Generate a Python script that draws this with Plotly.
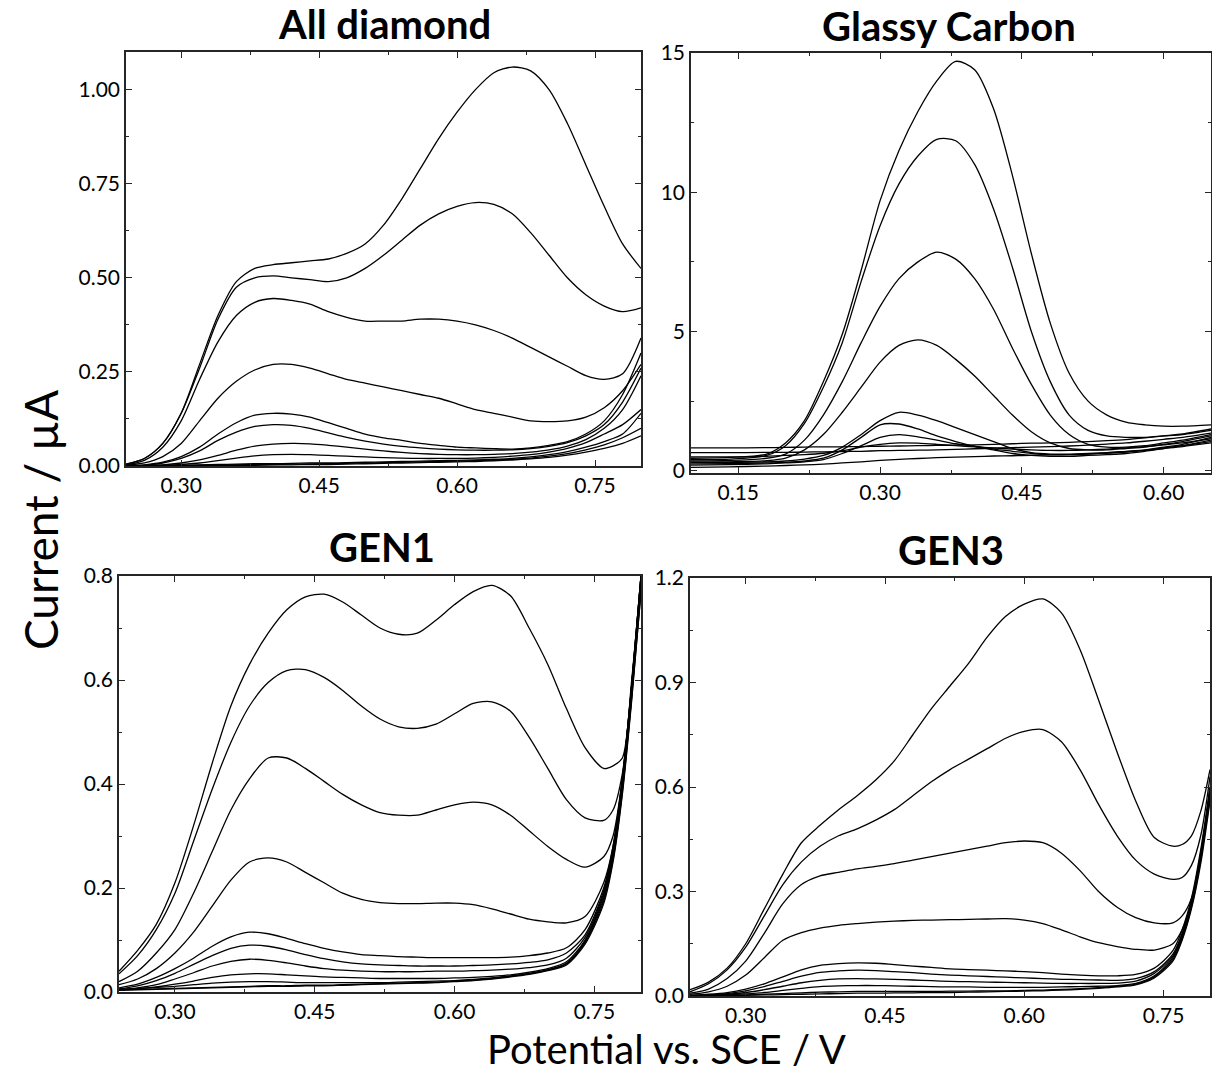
import plotly.graph_objects as go

# ---------------- DATA ----------------
# All diamond
AD_X = [0.24, 0.26, 0.28, 0.30, 0.32, 0.34, 0.36, 0.38, 0.40, 0.42, 0.44, 0.46, 0.48, 0.50,
        0.52, 0.54, 0.56, 0.58, 0.60, 0.62, 0.64, 0.66, 0.68, 0.70, 0.72, 0.74, 0.76, 0.78, 0.80]
AD_1 = [0.005, 0.02, 0.06, 0.14, 0.27, 0.40, 0.49, 0.525, 0.535, 0.54, 0.545, 0.55, 0.565, 0.59,
        0.64, 0.71, 0.79, 0.87, 0.94, 1.00, 1.045, 1.06, 1.05, 1.00, 0.91, 0.80, 0.69, 0.59, 0.525]
AD_2 = [0.005, 0.02, 0.06, 0.14, 0.26, 0.39, 0.475, 0.50, 0.505, 0.50, 0.495, 0.49, 0.50, 0.525,
        0.56, 0.60, 0.64, 0.67, 0.69, 0.70, 0.695, 0.67, 0.62, 0.56, 0.50, 0.455, 0.425, 0.41, 0.42]
AD_3 = [0.003, 0.015, 0.05, 0.12, 0.23, 0.33, 0.40, 0.435, 0.445, 0.44, 0.43, 0.41, 0.395, 0.385,
        0.385, 0.385, 0.39, 0.39, 0.385, 0.375, 0.36, 0.34, 0.315, 0.29, 0.265, 0.24, 0.23, 0.245, 0.34]
AD_4 = [0.002, 0.008, 0.025, 0.06, 0.12, 0.18, 0.225, 0.255, 0.27, 0.27, 0.26, 0.245, 0.23, 0.22,
        0.21, 0.20, 0.19, 0.18, 0.165, 0.15, 0.14, 0.13, 0.12, 0.118, 0.12, 0.13, 0.155, 0.20, 0.27]
AD_5 = [0.0, 0.003, 0.01, 0.025, 0.05, 0.085, 0.115, 0.135, 0.14, 0.138, 0.13, 0.115, 0.10, 0.085,
        0.075, 0.068, 0.06, 0.055, 0.05, 0.048, 0.046, 0.045, 0.048, 0.055, 0.065, 0.085, 0.12, 0.19, 0.30]
AD_6 = [0.0, 0.002, 0.008, 0.02, 0.04, 0.068, 0.09, 0.105, 0.11, 0.108, 0.10, 0.088, 0.076, 0.066,
        0.058, 0.052, 0.048, 0.045, 0.043, 0.042, 0.042, 0.043, 0.046, 0.052, 0.062, 0.08, 0.11, 0.17, 0.26]
AD_7 = [0.0, 0.001, 0.003, 0.008, 0.016, 0.028, 0.042, 0.053, 0.058, 0.06, 0.059, 0.055, 0.05, 0.045,
        0.04, 0.036, 0.033, 0.031, 0.03, 0.03, 0.031, 0.033, 0.037, 0.043, 0.053, 0.07, 0.10, 0.15, 0.24]
AD_8 = [0.0, 0.001, 0.002, 0.004, 0.008, 0.014, 0.021, 0.027, 0.03, 0.031, 0.03, 0.028, 0.026, 0.024,
        0.022, 0.021, 0.02, 0.02, 0.02, 0.021, 0.023, 0.026, 0.03, 0.037, 0.047, 0.062, 0.085, 0.11, 0.15]
AD_9 = [0.0, 0.0, 0.001, 0.002, 0.003, 0.004, 0.005, 0.006, 0.006, 0.007, 0.008, 0.008, 0.009, 0.01,
        0.011, 0.012, 0.013, 0.014, 0.015, 0.016, 0.018, 0.02, 0.024, 0.03, 0.038, 0.05, 0.065, 0.085, 0.14]
AD_10 = [0.0, 0.0, 0.0, 0.001, 0.002, 0.002, 0.003, 0.004, 0.004, 0.005, 0.005, 0.006, 0.007, 0.008,
         0.009, 0.01, 0.011, 0.012, 0.013, 0.014, 0.016, 0.018, 0.021, 0.026, 0.033, 0.043, 0.056, 0.075, 0.10]
AD_11 = [0.0, 0.0, 0.0, 0.0, 0.001, 0.001, 0.002, 0.002, 0.003, 0.003, 0.004, 0.004, 0.005, 0.006,
         0.007, 0.008, 0.009, 0.01, 0.011, 0.012, 0.014, 0.016, 0.019, 0.023, 0.029, 0.037, 0.047, 0.06, 0.08]
AD_CURVES = [AD_1, AD_2, AD_3, AD_4, AD_5, AD_6, AD_7, AD_8, AD_9, AD_10, AD_11]

# Glassy Carbon
GC_X = [0.10, 0.14, 0.18, 0.20, 0.22, 0.24, 0.26, 0.28, 0.30, 0.32, 0.34, 0.36, 0.38, 0.40,
        0.42, 0.44, 0.46, 0.48, 0.50, 0.52, 0.54, 0.56, 0.58, 0.60, 0.62, 0.65]
GC_1 = [0.45, 0.48, 0.6, 1.0, 1.8, 3.2, 4.9, 7.2, 9.7, 11.5, 12.9, 14.0, 14.7, 14.4,
        13.0, 10.6, 7.8, 5.3, 3.5, 2.5, 2.0, 1.75, 1.65, 1.6, 1.6, 1.65]
GC_2 = [0.4, 0.42, 0.55, 0.9, 1.7, 3.0, 4.6, 6.8, 8.8, 10.3, 11.3, 11.9, 11.85, 11.0,
        9.4, 7.3, 5.0, 3.2, 2.0, 1.45, 1.25, 1.2, 1.2, 1.25, 1.3, 1.45]
GC_3 = [0.35, 0.37, 0.45, 0.6, 1.1, 2.0, 3.2, 4.6, 5.9, 6.9, 7.5, 7.85, 7.6, 6.9,
        5.8, 4.4, 3.1, 2.0, 1.3, 0.95, 0.85, 0.85, 0.9, 1.0, 1.1, 1.3]
GC_4 = [0.3, 0.32, 0.36, 0.45, 0.75, 1.3, 2.1, 3.0, 3.9, 4.5, 4.7, 4.5, 4.0, 3.4,
        2.7, 2.0, 1.4, 1.0, 0.8, 0.75, 0.75, 0.8, 0.85, 0.95, 1.05, 1.25]
GC_5 = [0.3, 0.3, 0.32, 0.35, 0.42, 0.55, 0.85, 1.3, 1.8, 2.1, 2.0, 1.8, 1.55, 1.3,
        1.05, 0.8, 0.65, 0.6, 0.6, 0.62, 0.65, 0.7, 0.75, 0.85, 0.95, 1.2]
GC_6 = [0.25, 0.26, 0.28, 0.3, 0.35, 0.45, 0.75, 1.2, 1.65, 1.68, 1.5, 1.25, 1.05, 0.88,
        0.75, 0.62, 0.55, 0.52, 0.52, 0.55, 0.58, 0.62, 0.7, 0.8, 0.9, 1.1]
GC_7 = [0.2, 0.22, 0.25, 0.28, 0.32, 0.4, 0.62, 0.9, 1.2, 1.3, 1.22, 1.1, 0.97, 0.88,
        0.78, 0.7, 0.62, 0.58, 0.58, 0.6, 0.63, 0.67, 0.73, 0.82, 0.9, 1.05]
GC_8 = [0.5, 0.5, 0.52, 0.55, 0.58, 0.63, 0.72, 0.85, 0.95, 1.0, 0.99, 0.95, 0.9, 0.86,
        0.82, 0.78, 0.75, 0.73, 0.73, 0.75, 0.78, 0.82, 0.87, 0.93, 1.0, 1.15]
GC_9 = [0.82, 0.82, 0.83, 0.84, 0.85, 0.86, 0.86, 0.87, 0.88, 0.89, 0.9, 0.91, 0.92, 0.93,
        0.95, 0.97, 0.99, 1.0, 1.02, 1.05, 1.08, 1.12, 1.18, 1.25, 1.32, 1.5]
GC_10 = [0.65, 0.65, 0.66, 0.66, 0.67, 0.68, 0.69, 0.7, 0.72, 0.73, 0.74, 0.75, 0.77, 0.79,
         0.81, 0.83, 0.85, 0.87, 0.89, 0.92, 0.96, 1.0, 1.06, 1.13, 1.2, 1.35]
GC_11 = [0.12, 0.14, 0.17, 0.19, 0.21, 0.24, 0.28, 0.32, 0.37, 0.41, 0.44, 0.47, 0.49, 0.51,
         0.53, 0.54, 0.55, 0.57, 0.58, 0.61, 0.64, 0.68, 0.73, 0.8, 0.87, 1.0]
GC_CURVES = [GC_1, GC_2, GC_3, GC_4, GC_5, GC_6, GC_7, GC_8, GC_9, GC_10, GC_11]

# GEN1
G1_X = [0.24, 0.26, 0.28, 0.30, 0.32, 0.34, 0.36, 0.38, 0.40, 0.42, 0.44, 0.46, 0.48, 0.50, 0.52,
        0.54, 0.56, 0.58, 0.60, 0.62, 0.64, 0.66, 0.68, 0.70, 0.72, 0.74, 0.76, 0.77, 0.78, 0.79, 0.80]
G1_1 = [0.04, 0.08, 0.13, 0.21, 0.32, 0.44, 0.55, 0.63, 0.69, 0.735, 0.76, 0.765, 0.75, 0.725, 0.70,
        0.688, 0.69, 0.715, 0.745, 0.77, 0.782, 0.762, 0.70, 0.63, 0.545, 0.47, 0.43, 0.435, 0.45, 0.60, 0.80]
G1_2 = [0.035, 0.07, 0.12, 0.19, 0.29, 0.39, 0.48, 0.55, 0.595, 0.618, 0.62, 0.605, 0.58, 0.55, 0.525,
        0.51, 0.507, 0.515, 0.535, 0.555, 0.558, 0.54, 0.49, 0.43, 0.37, 0.335, 0.33, 0.35, 0.42, 0.59, 0.80]
G1_3 = [0.02, 0.04, 0.075, 0.12, 0.19, 0.27, 0.35, 0.41, 0.45, 0.45, 0.43, 0.405, 0.38, 0.36, 0.345,
        0.34, 0.34, 0.35, 0.36, 0.365, 0.36, 0.34, 0.31, 0.28, 0.255, 0.24, 0.26, 0.30, 0.41, 0.59, 0.80]
G1_4 = [0.014, 0.025, 0.045, 0.075, 0.115, 0.165, 0.215, 0.25, 0.258, 0.25, 0.23, 0.21, 0.19, 0.178, 0.172,
        0.17, 0.17, 0.171, 0.171, 0.168, 0.16, 0.15, 0.14, 0.135, 0.133, 0.145, 0.21, 0.28, 0.41, 0.59, 0.80]
G1_5 = [0.008, 0.015, 0.028, 0.045, 0.065, 0.088, 0.106, 0.115, 0.112, 0.103, 0.093, 0.084, 0.077, 0.072, 0.07,
        0.068, 0.067, 0.066, 0.066, 0.066, 0.066, 0.067, 0.07, 0.075, 0.085, 0.12, 0.20, 0.28, 0.41, 0.59, 0.80]
G1_6 = [0.006, 0.012, 0.022, 0.036, 0.053, 0.07, 0.084, 0.09, 0.088, 0.081, 0.072, 0.064, 0.058, 0.054, 0.052,
        0.051, 0.05, 0.05, 0.05, 0.051, 0.052, 0.054, 0.057, 0.062, 0.075, 0.11, 0.195, 0.275, 0.405, 0.585, 0.79]
G1_7 = [0.004, 0.008, 0.014, 0.025, 0.037, 0.05, 0.059, 0.063, 0.061, 0.056, 0.05, 0.045, 0.042, 0.04, 0.039,
        0.039, 0.039, 0.04, 0.04, 0.041, 0.042, 0.044, 0.047, 0.052, 0.065, 0.105, 0.19, 0.27, 0.40, 0.58, 0.79]
G1_8 = [0.004, 0.006, 0.01, 0.015, 0.021, 0.028, 0.033, 0.035, 0.035, 0.033, 0.031, 0.029, 0.028, 0.027, 0.026,
        0.026, 0.026, 0.026, 0.027, 0.028, 0.03, 0.033, 0.038, 0.045, 0.058, 0.10, 0.185, 0.265, 0.395, 0.575, 0.78]
G1_9 = [0.005, 0.007, 0.009, 0.011, 0.014, 0.017, 0.019, 0.02, 0.02, 0.019, 0.018, 0.018, 0.018, 0.018, 0.018,
        0.019, 0.02, 0.021, 0.022, 0.024, 0.027, 0.031, 0.036, 0.043, 0.055, 0.098, 0.18, 0.26, 0.39, 0.57, 0.78]
G1_10 = [0.004, 0.005, 0.006, 0.007, 0.008, 0.009, 0.01, 0.011, 0.012, 0.012, 0.013, 0.013, 0.014, 0.015, 0.016,
         0.017, 0.018, 0.019, 0.021, 0.023, 0.026, 0.03, 0.035, 0.042, 0.054, 0.095, 0.175, 0.255, 0.385, 0.565, 0.77]
G1_11 = [0.003, 0.004, 0.005, 0.006, 0.007, 0.008, 0.009, 0.01, 0.011, 0.011, 0.012, 0.012, 0.013, 0.014, 0.015,
         0.016, 0.017, 0.018, 0.02, 0.022, 0.025, 0.029, 0.034, 0.041, 0.052, 0.092, 0.17, 0.25, 0.38, 0.56, 0.77]
G1_CURVES = [G1_1, G1_2, G1_3, G1_4, G1_5, G1_6, G1_7, G1_8, G1_9, G1_10, G1_11]

# GEN3
G3_X = [0.24, 0.26, 0.28, 0.30, 0.32, 0.34, 0.36, 0.38, 0.40, 0.42, 0.44, 0.46, 0.48, 0.50, 0.52,
        0.54, 0.56, 0.58, 0.60, 0.62, 0.64, 0.66, 0.68, 0.70, 0.72, 0.74, 0.76, 0.77, 0.78, 0.79, 0.80]
G3_1 = [0.018, 0.04, 0.08, 0.15, 0.25, 0.35, 0.44, 0.49, 0.535, 0.575, 0.62, 0.675, 0.75, 0.825, 0.89,
        0.955, 1.03, 1.09, 1.125, 1.14, 1.10, 0.995, 0.85, 0.70, 0.56, 0.455, 0.43, 0.435, 0.46, 0.53, 0.65]
G3_2 = [0.012, 0.035, 0.075, 0.14, 0.23, 0.32, 0.385, 0.43, 0.46, 0.48, 0.505, 0.535, 0.575, 0.615, 0.65,
        0.68, 0.71, 0.74, 0.76, 0.765, 0.73, 0.65, 0.55, 0.46, 0.39, 0.35, 0.335, 0.34, 0.375, 0.46, 0.63]
G3_3 = [0.008, 0.02, 0.05, 0.10, 0.18, 0.265, 0.32, 0.345, 0.355, 0.365, 0.372, 0.38, 0.39, 0.40, 0.41,
        0.42, 0.43, 0.44, 0.445, 0.44, 0.41, 0.36, 0.30, 0.255, 0.225, 0.21, 0.21, 0.23, 0.28, 0.40, 0.60]
G3_4 = [0.005, 0.012, 0.028, 0.06, 0.11, 0.16, 0.182, 0.195, 0.203, 0.208, 0.212, 0.215, 0.217, 0.218, 0.219,
        0.22, 0.221, 0.222, 0.218, 0.208, 0.19, 0.17, 0.153, 0.142, 0.134, 0.132, 0.15, 0.19, 0.27, 0.40, 0.59]
G3_5 = [0.002, 0.005, 0.01, 0.02, 0.035, 0.055, 0.075, 0.088, 0.093, 0.095, 0.094, 0.09, 0.086, 0.082, 0.078,
        0.076, 0.074, 0.072, 0.07, 0.067, 0.063, 0.06, 0.058, 0.058, 0.062, 0.08, 0.13, 0.19, 0.28, 0.42, 0.60]
G3_6 = [0.001, 0.003, 0.007, 0.015, 0.027, 0.042, 0.057, 0.068, 0.072, 0.074, 0.073, 0.07, 0.067, 0.063, 0.06,
        0.058, 0.056, 0.054, 0.052, 0.05, 0.048, 0.047, 0.046, 0.045, 0.05, 0.07, 0.12, 0.18, 0.27, 0.41, 0.59]
G3_7 = [0.001, 0.002, 0.005, 0.01, 0.018, 0.028, 0.038, 0.045, 0.049, 0.05, 0.049, 0.048, 0.046, 0.044, 0.042,
        0.041, 0.04, 0.039, 0.038, 0.037, 0.036, 0.036, 0.036, 0.037, 0.043, 0.065, 0.115, 0.175, 0.265, 0.40, 0.58]
G3_8 = [0.001, 0.002, 0.003, 0.006, 0.01, 0.016, 0.022, 0.027, 0.029, 0.03, 0.03, 0.029, 0.028, 0.027, 0.026,
        0.026, 0.025, 0.025, 0.025, 0.025, 0.026, 0.027, 0.028, 0.03, 0.036, 0.058, 0.11, 0.17, 0.26, 0.40, 0.58]
G3_9 = [0.0, 0.001, 0.002, 0.003, 0.005, 0.007, 0.009, 0.011, 0.012, 0.013, 0.013, 0.013, 0.013, 0.013, 0.014,
        0.014, 0.015, 0.015, 0.016, 0.017, 0.019, 0.021, 0.024, 0.028, 0.034, 0.055, 0.105, 0.165, 0.255, 0.39, 0.57]
G3_10 = [0.0, 0.0, 0.001, 0.002, 0.003, 0.004, 0.005, 0.006, 0.007, 0.008, 0.008, 0.009, 0.009, 0.01, 0.01,
         0.011, 0.012, 0.013, 0.014, 0.015, 0.017, 0.019, 0.022, 0.026, 0.032, 0.052, 0.10, 0.16, 0.25, 0.38, 0.56]
G3_CURVES = [G3_1, G3_2, G3_3, G3_4, G3_5, G3_6, G3_7, G3_8, G3_9, G3_10]

TITLES = ["All diamond", "Glassy Carbon", "GEN1", "GEN3"]
X_TITLE = "Potential vs. SCE / V"
Y_TITLE = "Current / µA"

# ---------------- LAYOUT ----------------
W, H = 1212, 1076
FONT = "Lato"
INK = "#000000"
AXC = "#262626"

panels = [
    dict(x=AD_X, curves=AD_CURVES, box=(126, 641, 52, 466), xr=[0.24, 0.80], yr=[0, 1.10],
         ydt=0.25, ymin=0.125, yfmt=".2f", xdt=0.15, xfmt=".2f", tx=384, ty=24),
    dict(x=GC_X, curves=GC_CURVES, box=(691, 1211, 53, 473), xr=[0.10, 0.65], yr=[-0.08, 15],
         ydt=5, ymin=2.5, yfmt="d", xdt=0.15, xfmt=".2f", tx=949, ty=26),
    dict(x=G1_X, curves=G1_CURVES, box=(119, 641, 576, 992), xr=[0.24, 0.80], yr=[0, 0.8],
         ydt=0.2, ymin=0.1, yfmt=".1f", xdt=0.15, xfmt=".2f", tx=382, ty=547),
    dict(x=G3_X, curves=G3_CURVES, box=(690, 1210, 578, 996), xr=[0.24, 0.80], yr=[0, 1.2],
         ydt=0.3, ymin=0.15, yfmt=".1f", xdt=0.15, xfmt=".2f", tx=951, ty=550),
]

fig = go.Figure()
layout = dict(width=W, height=H, autosize=False,
              margin=dict(l=0, r=0, t=0, b=0, pad=0, autoexpand=False),
              paper_bgcolor="white", plot_bgcolor="white", showlegend=False,
              font=dict(family=FONT, color=INK))

annotations = []
for i, p in enumerate(panels):
    n = i + 1
    xa = "x" if n == 1 else f"x{n}"
    ya = "y" if n == 1 else f"y{n}"
    for c in p["curves"]:
        fig.add_trace(go.Scatter(x=p["x"], y=c, mode="lines", xaxis=xa, yaxis=ya,
                                 line=dict(color=INK, width=1.3, shape="spline", smoothing=0.8),
                                 hoverinfo="skip"))
    l, r, t, b = p["box"]
    common = dict(showline=True, linecolor=AXC, linewidth=1.6, mirror="allticks",
                  ticks="inside", ticklen=6, tickwidth=1.3, tickcolor=AXC, automargin=False,
                  showgrid=False, zeroline=False, tickfont=dict(family=FONT, size=21, color=INK))
    layout["xaxis" if n == 1 else f"xaxis{n}"] = dict(
        common, domain=[l / W, r / W], range=p["xr"], anchor=ya, tick0=0, dtick=p["xdt"],
        tickformat=p["xfmt"],
        minor=dict(ticks="inside", ticklen=3, tickwidth=1.1, tickcolor=AXC, dtick=p["xdt"] / 2,
                   tick0=0, showgrid=False))
    layout["yaxis" if n == 1 else f"yaxis{n}"] = dict(
        common, domain=[1 - b / H, 1 - t / H], range=p["yr"], anchor=xa, tick0=0, dtick=p["ydt"],
        tickformat=p["yfmt"],
        minor=dict(ticks="inside", ticklen=3, tickwidth=1.1, tickcolor=AXC, dtick=p["ymin"],
                   tick0=0, showgrid=False))
    annotations.append(dict(text=f"<b>{TITLES[i]}</b>", x=p["tx"] / W, y=1 - p["ty"] / H,
                            xref="paper", yref="paper", xanchor="center", yanchor="middle",
                            showarrow=False, font=dict(family=FONT, size=40, color=INK)))

annotations.append(dict(text=X_TITLE, x=666 / W, y=1 - 1075 / H, xref="paper", yref="paper",
                        xanchor="center", yanchor="bottom", showarrow=False,
                        font=dict(family=FONT, size=40, color=INK)))
annotations.append(dict(text=Y_TITLE, x=40 / W, y=1 - 520 / H, xref="paper", yref="paper",
                        xanchor="center", yanchor="middle", textangle=-90, showarrow=False,
                        font=dict(family=FONT, size=46, color=INK)))
layout["annotations"] = annotations
fig.update_layout(**layout)
fig.write_html("out.html")
